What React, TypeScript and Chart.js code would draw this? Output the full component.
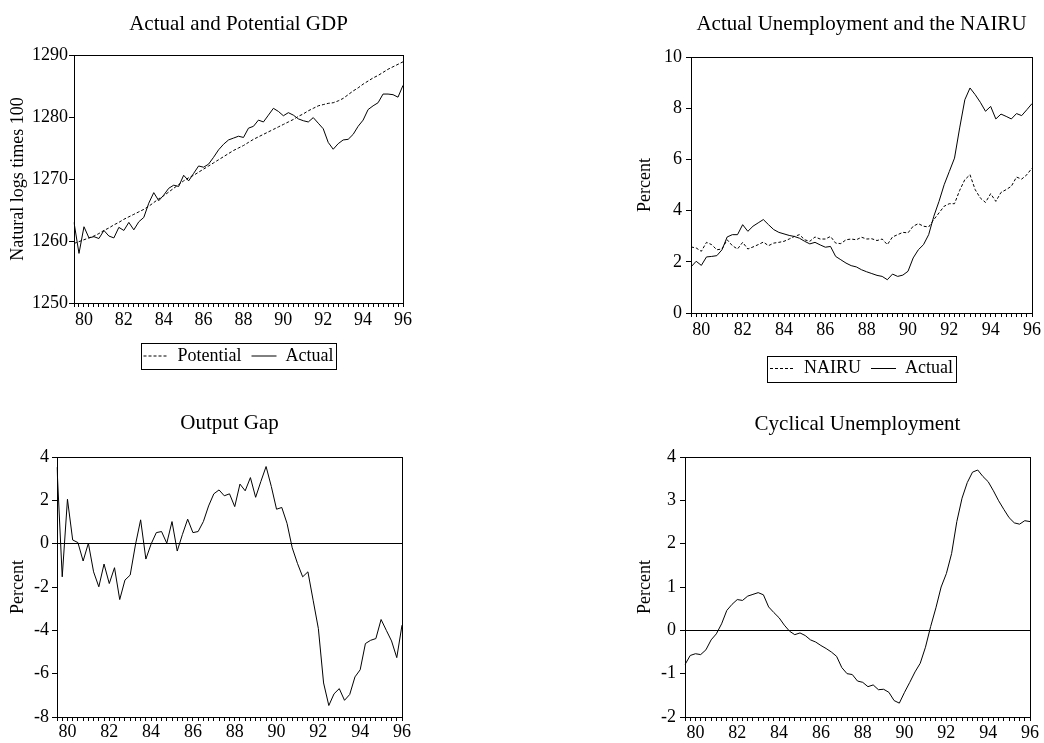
import React, { useEffect, useRef } from "react";
import { Chart, registerables } from "chart.js";

Chart.register(...registerables);

const FONT = "'Liberation Serif', 'Times New Roman', Times, serif";

const quarters = [
  "1979Q3", "1979Q4",
  "1980Q1", "1980Q2", "1980Q3", "1980Q4", "1981Q1", "1981Q2", "1981Q3", "1981Q4",
  "1982Q1", "1982Q2", "1982Q3", "1982Q4", "1983Q1", "1983Q2", "1983Q3", "1983Q4",
  "1984Q1", "1984Q2", "1984Q3", "1984Q4", "1985Q1", "1985Q2", "1985Q3", "1985Q4",
  "1986Q1", "1986Q2", "1986Q3", "1986Q4", "1987Q1", "1987Q2", "1987Q3", "1987Q4",
  "1988Q1", "1988Q2", "1988Q3", "1988Q4", "1989Q1", "1989Q2", "1989Q3", "1989Q4",
  "1990Q1", "1990Q2", "1990Q3", "1990Q4", "1991Q1", "1991Q2", "1991Q3", "1991Q4",
  "1992Q1", "1992Q2", "1992Q3", "1992Q4", "1993Q1", "1993Q2", "1993Q3", "1993Q4",
  "1994Q1", "1994Q2", "1994Q3", "1994Q4", "1995Q1", "1995Q2", "1995Q3", "1995Q4",
  "1996Q1",
];

const gdpPotential = [
  1259.6, 1259.9, 1260.2, 1260.5, 1260.8, 1261.2, 1261.7, 1262.1, 1262.6, 1263.0,
  1263.5, 1263.9, 1264.3, 1264.7, 1265.1, 1265.6, 1266.2, 1266.8, 1267.3, 1267.9,
  1268.5, 1269.1, 1269.7, 1270.2, 1270.6, 1271.1, 1271.6, 1272.1, 1272.6, 1273.1,
  1273.6, 1274.1, 1274.6, 1275.0, 1275.4, 1275.9, 1276.4, 1276.8, 1277.2, 1277.6,
  1278.0, 1278.4, 1278.8, 1279.2, 1279.6, 1280.1, 1280.5, 1281.0, 1281.4, 1281.8,
  1282.0, 1282.2, 1282.3, 1282.6, 1283.0, 1283.6, 1284.2, 1284.7, 1285.3, 1285.8,
  1286.3, 1286.7, 1287.2, 1287.7, 1288.1, 1288.5, 1288.9,
];

const gdpActual = [
  1263.0, 1258.0, 1262.3, 1260.5, 1260.7, 1260.4, 1261.7, 1260.8, 1260.5, 1262.2,
  1261.7, 1263.0, 1261.8, 1263.1, 1263.8, 1266.1, 1267.8, 1266.5, 1267.4, 1268.5,
  1269.0, 1268.8, 1270.6, 1269.7, 1270.9, 1272.1, 1271.9, 1272.4, 1273.5, 1274.7,
  1275.6, 1276.3, 1276.6, 1276.9, 1276.7, 1278.2, 1278.5, 1279.5, 1279.2, 1280.3,
  1281.4, 1280.9, 1280.2, 1280.7, 1280.3, 1279.7, 1279.4, 1279.2, 1279.9, 1279.0,
  1278.1, 1275.9, 1274.8, 1275.7, 1276.3, 1276.4, 1277.2, 1278.5, 1279.5, 1281.2,
  1281.8, 1282.3, 1283.7, 1283.7, 1283.6, 1283.2, 1285.1,
];

const unempNairu = [
  2.58, 2.54, 2.41, 2.76, 2.67, 2.47, 2.50, 2.86, 2.63, 2.50,
  2.76, 2.50, 2.58, 2.67, 2.77, 2.63, 2.73, 2.76, 2.80, 2.89,
  2.99, 3.06, 2.86, 2.80, 2.97, 2.89, 2.89, 2.99, 2.73, 2.71,
  2.86, 2.89, 2.86, 2.96, 2.89, 2.90, 2.83, 2.89, 2.67, 2.97,
  3.06, 3.15, 3.13, 3.39, 3.49, 3.39, 3.36, 3.65, 3.91, 4.17,
  4.27, 4.27, 4.79, 5.21, 5.40, 4.82, 4.49, 4.32, 4.66, 4.36,
  4.71, 4.82, 4.95, 5.31, 5.23, 5.40, 5.66,
];

const unempActual = [
  1.80, 2.02, 1.86, 2.19, 2.21, 2.24, 2.47, 2.97, 3.06, 3.06,
  3.45, 3.19, 3.39, 3.52, 3.65, 3.45, 3.26, 3.15, 3.09, 3.03,
  2.99, 2.92, 2.80, 2.70, 2.76, 2.66, 2.57, 2.60, 2.21, 2.08,
  1.95, 1.85, 1.80, 1.69, 1.61, 1.54, 1.47, 1.43, 1.30, 1.52,
  1.43, 1.48, 1.63, 2.15, 2.47, 2.67, 3.06, 3.78, 4.36, 5.01,
  5.53, 6.05, 7.23, 8.33, 8.79, 8.53, 8.23, 7.88, 8.07, 7.58,
  7.77, 7.68, 7.58, 7.79, 7.71, 7.94, 8.18,
];

const outputGap = [
  3.53, -1.53, 2.05, 0.17, 0.05, -0.80, 0.02, -1.30, -1.99, -0.94,
  -1.84, -1.11, -2.58, -1.68, -1.45, -0.06, 1.10, -0.71, -0.02, 0.51,
  0.56, 0.02, 1.02, -0.34, 0.43, 1.13, 0.51, 0.56, 1.02, 1.74,
  2.30, 2.48, 2.21, 2.30, 1.71, 2.75, 2.44, 3.05, 2.14, 2.87,
  3.56, 2.64, 1.59, 1.67, 0.94, -0.19, -0.91, -1.53, -1.30, -2.61,
  -3.92, -6.43, -7.47, -6.93, -6.69, -7.23, -6.96, -6.15, -5.82, -4.61,
  -4.46, -4.38, -3.50, -4.00, -4.49, -5.26, -3.76,
];

const cyclicalUnemp = [
  -0.79, -0.58, -0.54, -0.56, -0.45, -0.22, -0.08, 0.15, 0.46, 0.60,
  0.71, 0.69, 0.79, 0.83, 0.87, 0.82, 0.54, 0.41, 0.29, 0.12,
  -0.02, -0.10, -0.06, -0.12, -0.22, -0.27, -0.35, -0.42, -0.50, -0.60,
  -0.86, -1.00, -1.02, -1.17, -1.20, -1.30, -1.26, -1.37, -1.36, -1.43,
  -1.62, -1.68, -1.43, -1.20, -0.96, -0.76, -0.39, 0.09, 0.52, 1.00,
  1.31, 1.77, 2.51, 3.05, 3.41, 3.65, 3.70, 3.55, 3.43, 3.22,
  2.99, 2.79, 2.60, 2.48, 2.45, 2.53, 2.51,
];

// y-axis ranges: [min, max, step]
const gdpRange = [1250, 1290, 10];
const unempRange = [0, 10, 2];
const gapRange = [-8, 4, 2];
const cycRange = [-2, 4, 1];

function yearLabel(q: string | undefined): string {
  if (!q) return "";
  const year = parseInt(q.slice(0, 4), 10);
  if (q.endsWith("Q1") && year % 2 === 0) return q.slice(2, 4);
  return "";
}

const framePlugin = {
  id: "frame",
  afterDraw(chart: any) {
    const { ctx, chartArea: a } = chart;
    ctx.save();
    ctx.strokeStyle = "#000";
    ctx.lineWidth = 1;
    ctx.setLineDash([]);
    const l = Math.round(a.left) + 0.5;
    const t = Math.round(a.top) + 0.5;
    const r = Math.round(a.right) + 0.5;
    const b = Math.round(a.bottom) + 0.5;
    ctx.strokeRect(l, t, r - l, b - t);
    ctx.restore();
  },
};

const legendBoxPlugin = {
  id: "legendBox",
  afterDraw(chart: any) {
    const lg = chart.legend;
    if (!lg || !lg.options.display) return;
    const hb = lg.legendHitBoxes;
    if (!hb || !hb.length) return;
    const l = Math.min(...hb.map((h: any) => h.left));
    const r = Math.max(...hb.map((h: any) => h.left + h.width));
    const t = Math.min(...hb.map((h: any) => h.top));
    const b = Math.max(...hb.map((h: any) => h.top + h.height));
    const ctx = chart.ctx;
    ctx.save();
    ctx.strokeStyle = "#000";
    ctx.lineWidth = 1;
    ctx.setLineDash([]);
    const x0 = Math.round(l - 3) + 0.5;
    const y0 = Math.round(t - 4) + 0.5;
    const x1 = Math.round(r + 3) + 0.5;
    const y1 = Math.round(b + 4) + 0.5;
    ctx.strokeRect(x0, y0, x1 - x0, y1 - y0);
    ctx.restore();
  },
};

type Series = { label: string; data: number[]; dash: number[] };

type PanelSpec = {
  left: number;
  top: number;
  width: number;
  height: number;
  title: string;
  titleTop: number;
  titleBottom: number;
  yTitle: string;
  yTitlePad: number;
  padLeft: number;
  padRight: number;
  padBottom: number;
  yWidth: number;
  xHeight: number;
  yTickLen: number;
  yTickPad: number;
  xTickPad: number;
  range: number[];
  series: Series[];
  legend: boolean;
  zeroLine: boolean;
};

function Panel({ spec }: { spec: PanelSpec }) {
  const ref = useRef<HTMLCanvasElement | null>(null);
  useEffect(() => {
    if (!ref.current) return;
    const s = spec;
    const font = { family: FONT, size: 18, weight: "normal" as const };
    const baseLabels = (Chart.defaults as any).plugins.legend.labels.generateLabels;
    const chart = new Chart(ref.current, {
      type: "line",
      data: {
        labels: quarters,
        datasets: s.series.map((d) => ({
          label: d.label,
          data: d.data,
          borderColor: "#000",
          backgroundColor: "#000",
          borderWidth: 1,
          borderDash: d.dash,
          pointRadius: 0,
          pointHoverRadius: 0,
          pointStyle: "line",
          tension: 0,
          fill: false,
        })),
      },
      options: {
        responsive: false,
        animation: false,
        events: [],
        layout: {
          padding: { left: s.padLeft, right: s.padRight, top: 0, bottom: s.padBottom },
        },
        plugins: {
          title: {
            display: true,
            text: s.title,
            fullSize: false,
            color: "#000",
            font: { family: FONT, size: 21, weight: "normal" },
            padding: { top: s.titleTop, bottom: s.titleBottom },
          },
          legend: {
            display: s.legend,
            position: "bottom",
            fullSize: false,
            labels: {
              color: "#000",
              font,
              usePointStyle: true,
              pointStyle: "line",
              pointStyleWidth: 25,
              padding: 10,
              generateLabels: (c: any) =>
                baseLabels(c).map((item: any) => ({
                  ...item,
                  lineDash: c.data.datasets[item.datasetIndex].borderDash || [],
                  strokeStyle: "#000",
                  lineWidth: 1,
                })),
            },
          },
          tooltip: { enabled: false },
        },
        scales: {
          x: {
            type: "category",
            offset: false,
            border: { display: false },
            grid: {
              display: true,
              drawOnChartArea: false,
              drawTicks: true,
              tickLength: 4,
              color: "#000",
              tickColor: "#000",
              offset: false,
            },
            ticks: {
              autoSkip: false,
              maxRotation: 0,
              minRotation: 0,
              padding: s.xTickPad,
              color: "#000",
              font,
              callback: (_v: any, i: number) => yearLabel(quarters[i]),
            },
            afterFit: (sc: any) => {
              sc.height = s.xHeight;
            },
          },
          y: {
            type: "linear",
            min: s.range[0],
            max: s.range[1],
            border: { display: false },
            ticks: {
              stepSize: s.range[2],
              padding: s.yTickPad,
              color: "#000",
              font,
              callback: (v: any) => String(v),
            },
            grid: {
              display: true,
              drawOnChartArea: s.zeroLine,
              drawTicks: true,
              tickLength: s.yTickLen,
              color: (c: any) =>
                s.zeroLine && c.tick && c.tick.value === 0 ? "#000" : "rgba(0,0,0,0)",
              tickColor: "#000",
            },
            title: {
              display: true,
              text: s.yTitle,
              color: "#000",
              font,
              padding: { top: s.yTitlePad, bottom: 0 },
            },
            afterFit: (sc: any) => {
              sc.width = s.yWidth;
            },
          },
        },
      },
      plugins: [framePlugin, legendBoxPlugin],
    } as any);
    return () => chart.destroy();
  }, [spec]);
  return (
    <canvas
      ref={ref}
      width={spec.width}
      height={spec.height}
      style={{
        position: "absolute",
        left: spec.left,
        top: spec.top,
        width: spec.width,
        height: spec.height,
      }}
    />
  );
}

const panels: PanelSpec[] = [
  {
    left: 0, top: 0, width: 522, height: 390,
    title: "Actual and Potential GDP", titleTop: 12, titleBottom: 17.8,
    yTitle: "Natural logs times 100", yTitlePad: 7.2,
    padLeft: 0, padRight: 119, padBottom: 15,
    yWidth: 74, xHeight: 34, yTickLen: 5, yTickPad: 1, xTickPad: 2,
    range: gdpRange,
    series: [
      { label: "Potential", data: gdpPotential, dash: [3, 2] },
      { label: "Actual", data: gdpActual, dash: [] },
    ],
    legend: true, zeroLine: false,
  },
  {
    left: 522, top: 0, width: 522, height: 390,
    title: "Actual Unemployment and the NAIRU", titleTop: 11.4, titleBottom: 20.4,
    yTitle: "Percent", yTitlePad: 12.2,
    padLeft: 100, padRight: 12, padBottom: 2.5,
    yWidth: 69, xHeight: 36.5, yTickLen: 5, yTickPad: 4, xTickPad: 2,
    range: unempRange,
    series: [
      { label: "NAIRU", data: unempNairu, dash: [3, 2] },
      { label: "Actual", data: unempActual, dash: [] },
    ],
    legend: true, zeroLine: false,
  },
  {
    left: 0, top: 390, width: 522, height: 353,
    title: "Output Gap", titleTop: 20.4, titleBottom: 21.4,
    yTitle: "Percent", yTitlePad: 7.2,
    padLeft: 0, padRight: 120, padBottom: 0,
    yWidth: 57, xHeight: 26, yTickLen: 5, yTickPad: 3, xTickPad: 0,
    range: gapRange,
    series: [{ label: "Output Gap", data: outputGap, dash: [] }],
    legend: false, zeroLine: true,
  },
  {
    left: 522, top: 390, width: 522, height: 353,
    title: "Cyclical Unemployment", titleTop: 21.4, titleBottom: 20.4,
    yTitle: "Percent", yTitlePad: 12.2,
    padLeft: 100, padRight: 14, padBottom: 0,
    yWidth: 63, xHeight: 26, yTickLen: 5, yTickPad: 4, xTickPad: 1,
    range: cycRange,
    series: [{ label: "Cyclical Unemployment", data: cyclicalUnemp, dash: [] }],
    legend: false, zeroLine: true,
  },
];

export default function App() {
  return (
    <div
      style={{
        position: "absolute",
        left: 0,
        top: 0,
        width: 1044,
        height: 743,
        background: "#fff",
        overflow: "hidden",
      }}
    >
      {panels.map((p, i) => (
        <Panel key={i} spec={p} />
      ))}
    </div>
  );
}
